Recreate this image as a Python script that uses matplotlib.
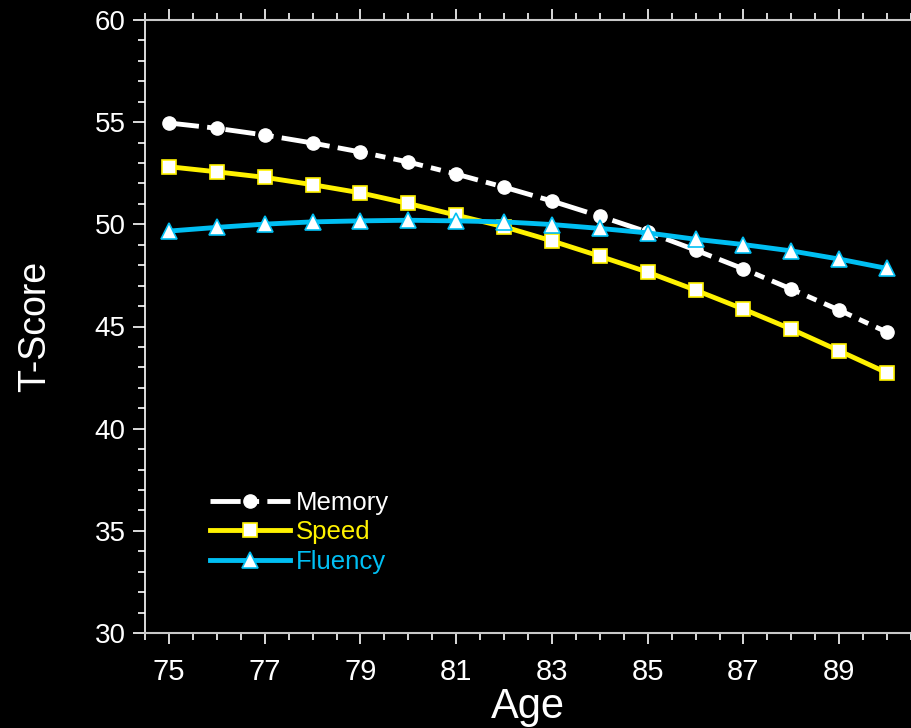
import numpy as np
import matplotlib
matplotlib.use("Agg")
import matplotlib.pyplot as plt
from matplotlib.ticker import MultipleLocator

# Datos
ages = np.arange(75, 91)
memory = [54.96, 54.7, 54.37, 53.98, 53.54, 53.05, 52.46, 51.82,
          51.14, 50.4, 49.62, 48.74, 47.82, 46.83, 45.8, 44.72]
speed = [52.82, 52.57, 52.3, 51.94, 51.54, 51.02, 50.45, 49.88,
         49.19, 48.44, 47.66, 46.78, 45.85, 44.87, 43.81, 42.73]
fluency = [49.67, 49.85, 50.01, 50.12, 50.17, 50.2, 50.17, 50.12,
           49.99, 49.8, 49.58, 49.27, 49.01, 48.7, 48.3, 47.84]

labels = ["Memory", "Speed", "Fluency"]
yellow = "#FFF200"
cyan = "#00BFF3"

plt.rcParams['font.family'] = ['Liberation Sans', 'DejaVu Sans']

fig = plt.figure(figsize=(9.11, 7.28), dpi=100, facecolor="black")
ax = fig.add_axes([145 / 911, 95 / 728, 766 / 911, 613 / 728])
ax.set_facecolor("black")

ln_m, = ax.plot(ages, memory, color="white", lw=3.5, marker="o", ms=9.5,
                mfc="white", mec="white", label=labels[0], zorder=3)
ln_m.set_dashes([6.2, 1.7, 2.1, 1.7])
ax.plot(ages, speed, color=yellow, lw=3.5, marker="s", ms=10.5,
        mfc="white", mec=yellow, mew=1.2, label=labels[1], zorder=4)
ax.plot(ages, fluency, color=cyan, lw=3.5, marker="^", ms=11,
        mfc="white", mec=cyan, mew=1.2, label=labels[2], zorder=5)

ax.set_xlim(74.5, 90.5)
ax.set_ylim(30, 60)
ax.xaxis.set_minor_locator(MultipleLocator(0.5))
ax.yaxis.set_major_locator(MultipleLocator(5))
ax.yaxis.set_minor_locator(MultipleLocator(1))
ax.set_xticks(np.arange(75, 91, 2))

for s in ["top", "bottom"]:
    ax.spines[s].set_color("#c8c8c8")
    ax.spines[s].set_linewidth(1.5)
ax.spines["left"].set_color("white")
ax.spines["left"].set_linewidth(1.2)
ax.spines["right"].set_visible(False)

ax.tick_params(axis="x", which="both", direction="out", colors="white",
               top=True, bottom=True, width=1.2)
ax.tick_params(axis="x", which="major", length=8, pad=10, labelsize=21)
ax.tick_params(axis="x", which="minor", length=5)
ax.tick_params(axis="y", which="both", direction="out", colors="white",
               left=True, right=False, width=1.2)
ax.tick_params(axis="y", which="major", length=9, pad=5, labelsize=20)
ax.tick_params(axis="y", which="minor", length=5)

ax.set_xlabel("Age", color="white", fontsize=30, labelpad=1)
ax.set_ylabel("T-Score", color="white", fontsize=27, labelpad=30)

leg = ax.legend(loc="upper left", bbox_to_anchor=(0.085, 0.232), frameon=False,
                fontsize=18.5, handlelength=3.1, handletextpad=0.25,
                labelspacing=0.22, borderpad=0, borderaxespad=0)
for txt, c in zip(leg.get_texts(), ["white", yellow, cyan]):
    txt.set_color(c)

fig.savefig("out.png", dpi=100, facecolor="black")
